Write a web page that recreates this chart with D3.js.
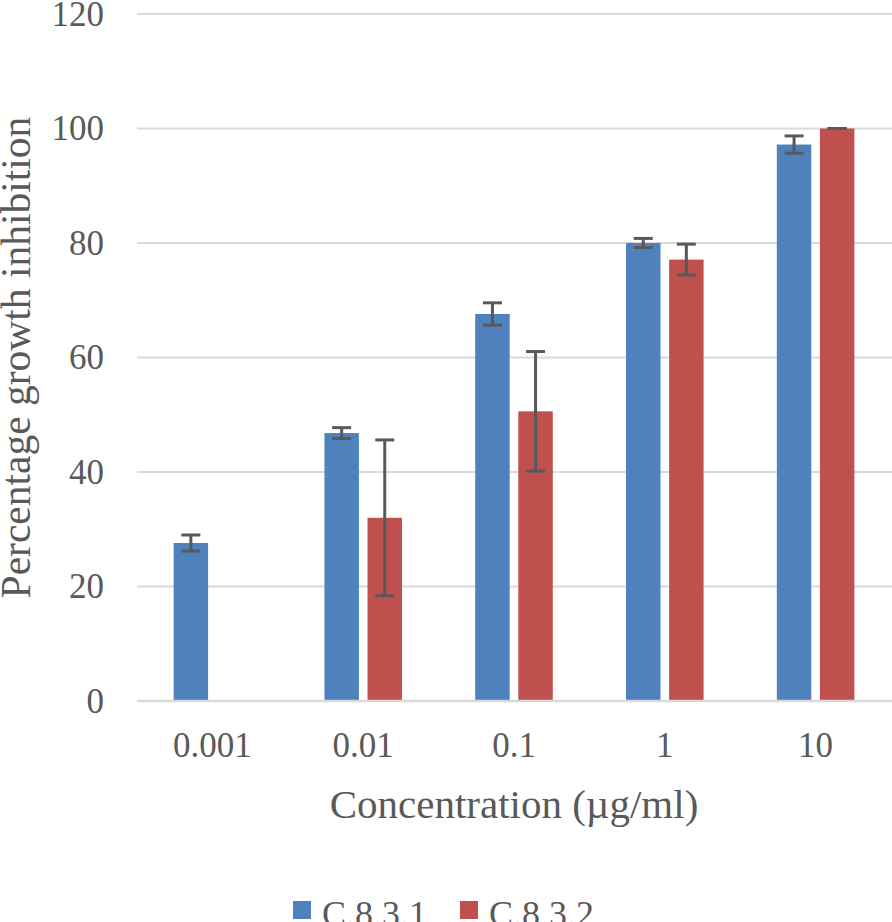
<!DOCTYPE html>
<html>
<head>
<meta charset="utf-8">
<script src="https://cdn.jsdelivr.net/npm/d3@7"></script>
<style>
  html, body { margin: 0; padding: 0; background: #fff; }
  svg { display: block; }
  text { font-family: "Liberation Serif", "Times New Roman", serif; fill: #595959; }
</style>
</head>
<body>
<svg id="chart" width="892" height="922"></svg>
<script>
const categories = ["0.001", "0.01", "0.1", "1", "10"];
const seriesNames = ["C.8.3.1", "C.8.3.2"];
const seriesColors = ["#4f81bd", "#c0504d"];
const valuesC831 = [27.6, 46.8, 67.6, 80.0, 97.2];
const errorsC831 = [1.4, 0.95, 1.95, 0.8, 1.5];
const valuesC832 = [null, 32.0, 50.6, 77.1, 100.0];
const errorsC832 = [null, 13.6, 10.45, 2.7, 0.0];
const yTicks = [0, 20, 40, 60, 80, 100, 120];
const yTitle = "Percentage growth inhibition";
const xTitle = "Concentration (\u00b5g/ml)";

(function () {
const svg = d3.select("#chart");
const mLeft = 137, mRight = 891, mTop = 14, mBottom = 701;

const x0 = d3.scaleBand().domain(categories).range([mLeft, mRight]).paddingInner(0).paddingOuter(0);
const x1 = d3.scaleBand().domain(seriesNames).range([0, x0.bandwidth()]).paddingInner(0.2).paddingOuter(0.85);
const y = d3.scaleLinear().domain([0, 120]).range([mBottom, mTop]);

// gridlines
svg.append("g").selectAll("line").data(yTicks.filter(d => d !== 0)).join("line")
  .attr("x1", mLeft).attr("x2", 892)
  .attr("y1", d => y(d)).attr("y2", d => y(d))
  .attr("stroke", "#d9d9d9").attr("stroke-width", 2);

// y tick labels
svg.append("g").selectAll("text").data(yTicks).join("text")
  .attr("x", 104).attr("y", d => y(d))
  .attr("text-anchor", "end").attr("dominant-baseline", "central")
  .attr("font-size", 35).text(d => d);

const data = [
  { name: seriesNames[0], color: seriesColors[0], vals: valuesC831, errs: errorsC831 },
  { name: seriesNames[1], color: seriesColors[1], vals: valuesC832, errs: errorsC832 }
];

const rows = [];
data.forEach(s => {
  categories.forEach((c, i) => {
    if (s.vals[i] != null) rows.push({ cat: c, name: s.name, color: s.color, v: s.vals[i], e: s.errs[i] });
  });
});

// bars
svg.append("g").selectAll("rect").data(rows).join("rect")
  .attr("x", d => x0(d.cat) + x1(d.name))
  .attr("width", x1.bandwidth())
  .attr("y", d => y(d.v))
  .attr("height", d => y(0) - y(d.v))
  .attr("fill", d => d.color);

// baseline axis
svg.append("line")
  .attr("x1", mLeft).attr("x2", 892)
  .attr("y1", y(0)).attr("y2", y(0))
  .attr("stroke", "#d9d9d9").attr("stroke-width", 2.5);

// error bars
const capW = 19;
const eg = svg.append("g").attr("stroke", "#595959").attr("stroke-width", 3);
rows.forEach(d => {
  const cx = x0(d.cat) + x1(d.name) + x1.bandwidth() / 2;
  const y1 = y(d.v + d.e), y2 = y(d.v - d.e);
  eg.append("line").attr("x1", cx).attr("x2", cx).attr("y1", y1).attr("y2", y2);
  eg.append("line").attr("x1", cx - capW / 2).attr("x2", cx + capW / 2).attr("y1", y1).attr("y2", y1);
  eg.append("line").attr("x1", cx - capW / 2).attr("x2", cx + capW / 2).attr("y1", y2).attr("y2", y2);
});

// x tick labels
svg.append("g").selectAll("text").data(categories).join("text")
  .attr("x", d => x0(d) + x0.bandwidth() / 2).attr("y", 757)
  .attr("text-anchor", "middle").attr("font-size", 35).text(d => d);

// axis titles
svg.append("text")
  .attr("x", (mLeft + mRight) / 2).attr("y", 818)
  .attr("text-anchor", "middle").attr("font-size", 41).text(xTitle);

svg.append("text")
  .attr("transform", `translate(30, ${(mTop + mBottom) / 2}) rotate(-90)`)
  .attr("text-anchor", "middle").attr("font-size", 41.5).text(yTitle);

// legend
const legendX = [293, 460];
const lg = svg.append("g");
data.forEach((s, i) => {
  lg.append("rect").attr("x", legendX[i]).attr("y", 901).attr("width", 18).attr("height", 18).attr("fill", s.color);
  lg.append("text").attr("x", legendX[i] + 29).attr("y", 926).attr("font-size", 36).text(s.name);
});
})();
</script>
</body>
</html>
